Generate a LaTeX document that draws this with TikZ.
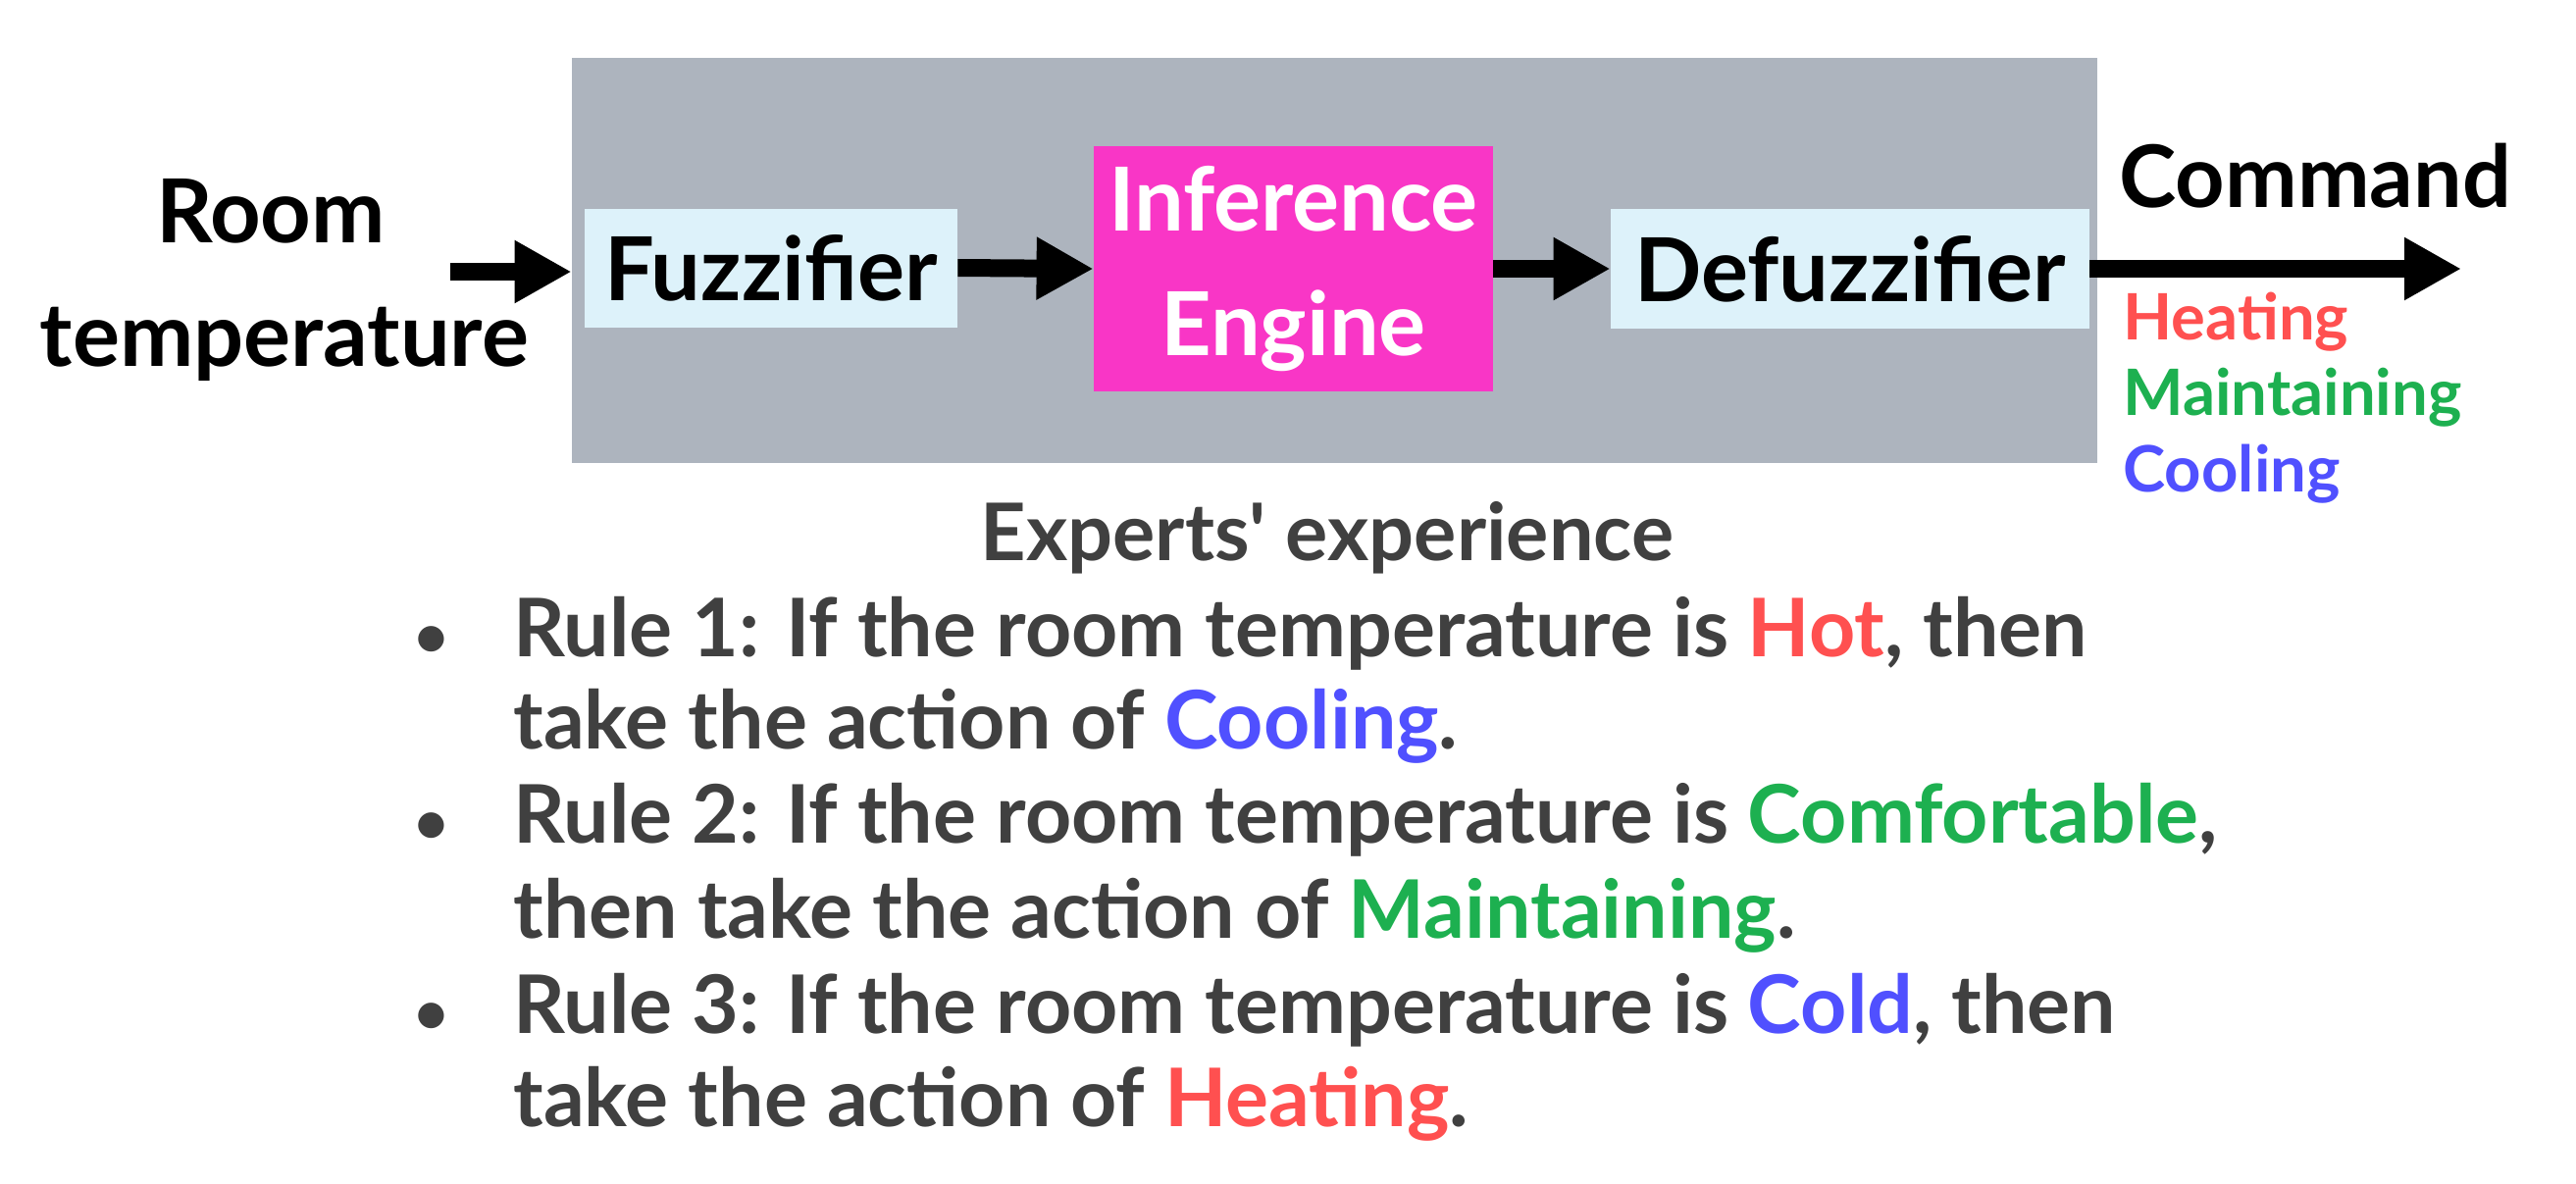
\documentclass[tikz,border=0pt]{standalone}
\usepackage{fontspec}
\setmainfont{Lato}
\newfontfamily\plainlato{Lato}
\usetikzlibrary{arrows.meta}
\definecolor{panelgrey}{RGB}{173,180,190}
\definecolor{paleblue}{RGB}{221,242,250}
\definecolor{engine}{RGB}{249,54,198}
\definecolor{ink}{RGB}{64,64,64}
\definecolor{hot}{RGB}{255,80,80}
\definecolor{mild}{RGB}{29,176,80}
\definecolor{cold}{RGB}{80,80,255}
\tikzset{
  stage/.style={rectangle, inner sep=0pt, font=\fontsize{45}{63.5}\selectfont\bfseries},
  flow/.style={line width=9pt, -{Triangle[length=29pt,width=30pt]}},
  big/.style={font=\fontsize{45}{50}\selectfont\bfseries, inner sep=0pt},
  cmd/.style={font=\fontsize{32.6}{36}\selectfont\bfseries, inner sep=0pt, anchor=base west},
  rule/.style={font=\fontsize{41.2}{46}\selectfont\bfseries, text=ink, inner sep=0pt, anchor=base west},
  dot/.style={font=\fontsize{30}{34}\selectfont\bfseries, text=ink, inner sep=0pt},
}
\begin{document}
\begin{tikzpicture}[x=0.5pt,y=-0.5pt]
\useasboundingbox (0,0) rectangle (2626,1206);
\fill[white] (0,0) rectangle (2626,1206);

% controller panel and its three stages
\node[fill=panelgrey, minimum width=777.5pt, minimum height=206.5pt] (sys) at (1360.5,265.5) {};
\node[stage, fill=paleblue, minimum width=190pt, minimum height=60.5pt] (fz) at (786,273) {Fuzzifier};
\node[stage, fill=engine, text=white, align=center, minimum width=203.5pt, minimum height=125pt] (inf) at (1318.5,274) {Inference\\Engine};
\node[stage, fill=paleblue, minimum width=244pt, minimum height=61pt] (dfz) at (1886,274) {Defuzzifier};

% input and output labels
\node[big, anchor=base] (room) at (276,247) {Room};
\node[big, anchor=base] (temp) at (290,373) {temperature};
\node[big, font=\fontsize{44}{50}\selectfont\bfseries, anchor=base west] (command) at (2160,211) {Command};
\node[cmd, text=hot] (heat) at (2164,346) {Heating};
\node[cmd, text=mild] (keep) at (2164,423) {Maintaining};
\node[cmd, text=cold] (cool) at (2164,501) {Cooling};

% signal flow
\coordinate (in) at (459,277);
\coordinate (out) at (2509,274);
\draw[flow] (in) -- (in -| sys.west);
\draw[flow] (fz.east) -- (inf.west);
\draw[flow] (inf.east) -- (dfz.west);
\draw[flow] (dfz.east) -- (out);

% rule base
\node[font=\fontsize{40.5}{46}\selectfont\bfseries, text=ink, anchor=base, inner sep=0pt] (head) at (1353,571) {Experts{\plainlato\bfseries'} experience};
\foreach \y/\n in {669/b1, 859/b2, 1053/b3}
  \node[dot, anchor=base] (\n) at (440,\y) {•};
\node[rule] (r1a) at (523,669) {Rule 1: If the room temperature is \textcolor{hot}{Hot}, then};
\node[rule] (r1b) at (523,763) {take the action of \textcolor{cold}{Cooling}.};
\node[rule] (r2a) at (523,859) {Rule 2: If the room temperature is \textcolor{mild}{Comfortable},};
\node[rule] (r2b) at (523,956) {then take the action of \textcolor{mild}{Maintaining}.};
\node[rule] (r3a) at (523,1053) {Rule 3: If the room temperature is \textcolor{cold}{Cold}, then};
\node[rule] (r3b) at (523,1148) {take the action of \textcolor{hot}{Heating}.};
\end{tikzpicture}
\end{document}
